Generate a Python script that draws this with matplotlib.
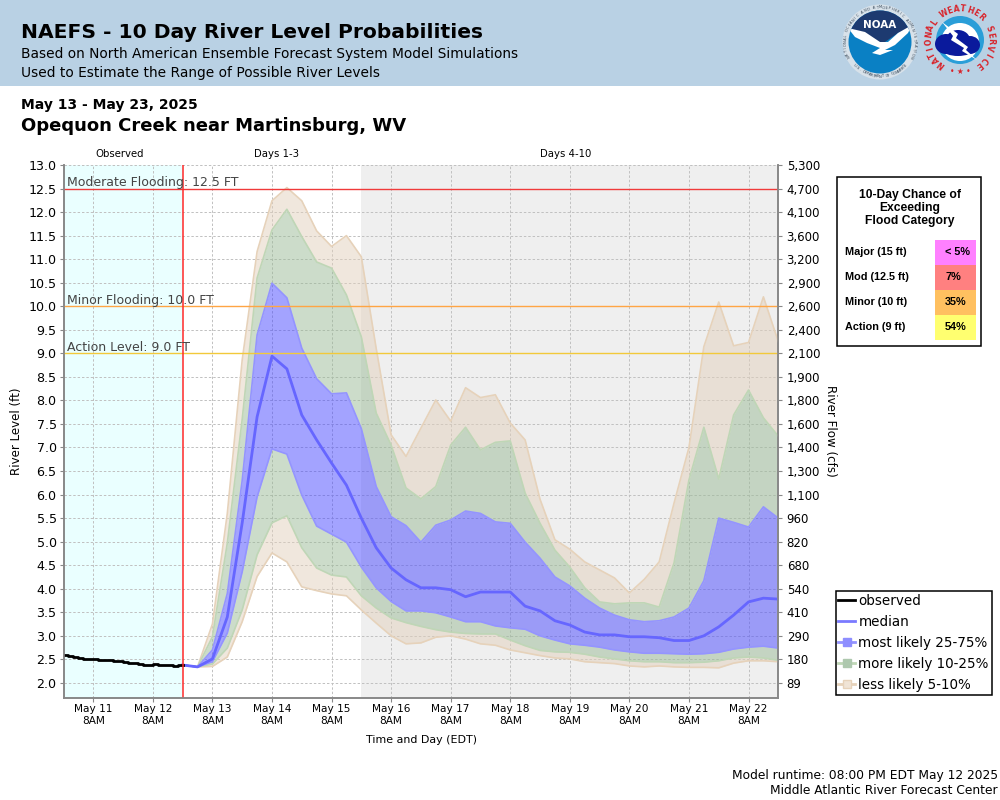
import numpy as np
import matplotlib
matplotlib.use('Agg')
import matplotlib.pyplot as plt
from matplotlib.lines import Line2D
from matplotlib.patches import Circle, Polygon, Rectangle, Ellipse

# hours counted from May 11 8AM
obs_hours = [-12, -10, -8, -6, -4, -2, 0, 2, 4, 6, 8, 10, 12, 14, 16, 18, 20, 22, 24, 26, 28, 30, 32, 34, 36]
obs_level = [2.60, 2.57, 2.55, 2.52, 2.51, 2.51, 2.51, 2.48, 2.48, 2.48, 2.46, 2.47, 2.45,
             2.42, 2.42, 2.40, 2.38, 2.38, 2.40, 2.38, 2.38, 2.37, 2.36, 2.38, 2.38]

fc_hours = list(range(36, 282, 6))
median = [2.38, 2.34, 2.51, 3.40, 5.40, 7.65, 8.94, 8.67, 7.69, 7.16, 6.67, 6.20, 5.50, 4.87, 4.44, 4.19,
          4.02, 4.02, 3.98, 3.83, 3.93, 3.93, 3.93, 3.63, 3.53, 3.32, 3.23, 3.08, 3.02, 3.02, 2.98, 2.98,
          2.96, 2.90, 2.90, 3.00, 3.19, 3.44, 3.72, 3.80, 3.78]
p75 = [2.38, 2.34, 2.70, 3.90, 6.30, 9.39, 10.49, 10.18, 9.11, 8.46, 8.14, 8.16, 7.40, 6.17, 5.53, 5.34,
       4.99, 5.35, 5.46, 5.65, 5.60, 5.42, 5.39, 4.99, 4.65, 4.25, 4.06, 3.80, 3.59, 3.44, 3.34, 3.30,
       3.32, 3.40, 3.59, 4.17, 5.50, 5.41, 5.31, 5.74, 5.50]
p25 = [2.38, 2.34, 2.45, 3.06, 4.36, 5.95, 6.97, 6.86, 5.99, 5.33, 5.16, 4.99, 4.46, 4.02, 3.73, 3.53,
       3.53, 3.49, 3.40, 3.30, 3.30, 3.21, 3.17, 3.14, 3.00, 2.91, 2.83, 2.80, 2.76, 2.70, 2.66, 2.63,
       2.63, 2.62, 2.61, 2.62, 2.65, 2.72, 2.76, 2.78, 2.74]
p90 = [2.38, 2.34, 2.98, 4.97, 7.60, 10.60, 11.62, 12.06, 11.48, 10.94, 10.81, 10.24, 9.35, 7.73, 7.05, 6.14,
       5.91, 6.17, 7.05, 7.43, 6.95, 7.11, 7.14, 6.03, 5.39, 4.82, 4.46, 4.02, 3.72, 3.68, 3.70, 3.70,
       3.61, 4.55, 6.31, 7.43, 6.33, 7.69, 8.22, 7.63, 7.24]
p10 = [2.38, 2.34, 2.40, 2.74, 3.55, 4.72, 5.40, 5.55, 4.87, 4.44, 4.29, 4.25, 3.85, 3.59, 3.38, 3.28,
       3.20, 3.13, 3.08, 3.05, 3.04, 3.04, 2.91, 2.79, 2.69, 2.66, 2.65, 2.61, 2.55, 2.51, 2.47, 2.45,
       2.45, 2.43, 2.43, 2.44, 2.47, 2.53, 2.55, 2.53, 2.48]
p95 = [2.38, 2.34, 3.25, 5.60, 8.86, 11.16, 12.24, 12.52, 12.24, 11.60, 11.27, 11.50, 11.05, 9.10, 7.27, 6.81,
       7.41, 8.01, 7.56, 8.27, 8.06, 8.12, 7.52, 7.16, 5.90, 5.04, 4.84, 4.57, 4.40, 4.23, 3.91, 4.20,
       4.57, 5.82, 7.00, 9.14, 10.09, 9.16, 9.23, 10.20, 9.25]
p05 = [2.38, 2.34, 2.35, 2.55, 3.30, 4.26, 4.76, 4.57, 4.04, 3.96, 3.89, 3.85, 3.55, 3.27, 3.00, 2.83,
       2.85, 2.97, 3.00, 2.93, 2.83, 2.80, 2.70, 2.64, 2.58, 2.53, 2.51, 2.45, 2.43, 2.41, 2.36, 2.34,
       2.36, 2.34, 2.33, 2.33, 2.32, 2.42, 2.47, 2.47, 2.45]

level_ticks = [x / 2 for x in range(4, 27)]
flow_labels = ['89', '180', '290', '410', '540', '680', '820', '960', '1,100', '1,300', '1,400', '1,600',
               '1,800', '1,900', '2,100', '2,400', '2,600', '2,900', '3,200', '3,600', '4,100', '4,700', '5,300']
day_hours = list(range(0, 288, 24))
day_labels = ['May 11', 'May 12', 'May 13', 'May 14', 'May 15', 'May 16',
              'May 17', 'May 18', 'May 19', 'May 20', 'May 21', 'May 22']

flood_names = ['Moderate Flooding: 12.5 FT', 'Minor Flooding: 10.0 FT', 'Action Level: 9.0 FT']
flood_levels = [12.5, 10.0, 9.0]
flood_colors = ['#f03a3a', '#ffa544', '#f2c93a']

chance_names = ['Major (15 ft)', 'Mod (12.5 ft)', 'Minor (10 ft)', 'Action (9 ft)']
chance_values = ['< 5%', '7%', '35%', '54%']
chance_colors = ['#ff80ff', '#ff8080', '#ffc060', '#ffff70']

BLUE = '#4848ff'
GREEN = '#9abb96'
TAN = '#e2d0bc'
BLUE_EDGE = '#9494ff'
GREEN_EDGE = '#bfd6b6'
TAN_EDGE = '#e6d2ba'

fig = plt.figure(figsize=(10, 8), dpi=100)

# whole figure axes in pixels for header, logos and table
bg = fig.add_axes([0, 0, 1, 1], zorder=0)
bg.set_xlim(0, 1000)
bg.set_ylim(800, 0)
bg.axis('off')
bg.add_patch(Rectangle((0, 0), 1000, 85.5, color='#b9d1e4', lw=0))

bg.text(21, 33, 'NAEFS - 10 Day River Level Probabilities', fontsize=14.55, fontweight='bold', va='center')
bg.text(21, 54, 'Based on North American Ensemble Forecast System Model Simulations', fontsize=9.9, va='center')
bg.text(21, 73, 'Used to Estimate the Range of Possible River Levels', fontsize=9.9, va='center')
bg.text(21, 105, 'May 13 - May 23, 2025', fontsize=10, fontweight='bold', va='center')
bg.text(21, 126, 'Opequon Creek near Martinsburg, WV', fontsize=12.95, fontweight='bold', va='center')
bg.text(120, 154, 'Observed', fontsize=7.3, ha='center', va='center')
bg.text(276, 154, 'Days 1-3', fontsize=7.3, ha='center', va='center')
bg.text(566, 154, 'Days 4-10', fontsize=7.3, ha='center', va='center')
bg.text(421, 740, 'Time and Day (EDT)', fontsize=7.9, ha='center', va='center')
bg.text(17, 431, 'River Level (ft)', fontsize=8.6, rotation=90, ha='center', va='center')
bg.text(831, 431, 'River Flow (cfs)', fontsize=8.6, rotation=270, ha='center', va='center')
bg.text(998, 775, 'Model runtime: 08:00 PM EDT May 12 2025', fontsize=8.8, ha='right', va='center')
bg.text(998, 791, 'Middle Atlantic River Forecast Center', fontsize=8.8, ha='right', va='center')


def ring_text(text, cx, cy, r, start, end, size, color, bottom=False, weight='normal'):
    for ch, a in zip(text, np.linspace(start, end, len(text))):
        t = np.radians(a)
        rot = a + 90 if bottom else a - 90
        bg.text(cx + r * np.cos(t), cy - r * np.sin(t), ch, fontsize=size, color=color, rotation=rot,
                ha='center', va='center', fontweight=weight)


# NOAA logo
bg.add_patch(Circle((880, 42), 37.5, color='#d8e2ea', lw=0))
disc = Circle((880, 42), 31.5, color='#0a80c4', lw=0)
bg.add_patch(disc)
navy = Polygon([(845, 5), (915, 5), (915, 26), (898, 33), (885, 42), (875, 42), (865, 34), (848, 28)],
               color='#1d3a70', lw=0)
bg.add_patch(navy)
navy.set_clip_path(disc)
gull = Polygon([(848, 28), (865, 32), (880, 42), (888, 42), (898, 33), (912, 25), (908, 33), (895, 45),
                (885, 50), (893, 50), (880, 55), (872, 53), (880, 48), (867, 43), (855, 37)],
               color='white', lw=0)
bg.add_patch(gull)
gull.set_clip_path(disc)
bg.text(880, 25, 'NOAA', color='white', fontsize=7.5, fontweight='bold', ha='center', va='center')
ring_text('NATIONAL OCEANIC AND ATMOSPHERIC ADMINISTRATION', 880, 42, 34.5, 205, -25, 2.6, '#334455')
ring_text('U.S. DEPARTMENT OF COMMERCE', 880, 42, 34.5, 222, 318, 2.6, '#334455', bottom=True)

# NWS logo
bg.add_patch(Circle((960, 40), 24, color='#2a9ed8', lw=0))
bg.add_patch(Circle((960, 42), 19, color='white', lw=0))
for ex, ey, ew, eh in [(946, 44, 22, 20), (958, 40, 24, 20), (970, 45, 20, 18), (958, 50, 30, 12)]:
    bg.add_patch(Ellipse((ex, ey), ew, eh, color='#0a1a9c', lw=0))
bg.add_patch(Polygon([(942, 22), (958, 34), (956, 38), (968, 47), (966, 50), (977, 60), (962, 51), (964, 48),
                      (951, 40), (953, 36)], color='white', lw=0))
ring_text('NATIONAL WEATHER SERVICE', 960, 40, 31, 232, -52, 5.6, '#d8232a', weight='bold')
bg.text(960, 71, '\u2022 \u2605 \u2022', color='#d8232a', fontsize=5.5, ha='center', va='center')

# chance of exceeding table
bg.add_patch(Rectangle((836.5, 176.5), 144, 169, fc='white', ec='black', lw=1.1))
for i, line in enumerate(['10-Day Chance of', 'Exceeding', 'Flood Category']):
    bg.text(910, 195 + i * 13, line, family='Liberation Sans', fontweight='bold', fontsize=8.7, ha='center', va='center')
for i in range(4):
    top = 240 + i * 25
    bg.add_patch(Rectangle((935, top), 41, 25.3, color=chance_colors[i], lw=0))
    bg.text(845, top + 12, chance_names[i], family='Liberation Sans', fontweight='bold', fontsize=7.8, va='center')
    bg.text(945, top + 12, chance_values[i], family='Liberation Sans', fontweight='bold', fontsize=7.8, va='center')

ax = fig.add_axes([63.5 / 1000, 1 - 697.5 / 800, 714.8 / 1000, 532.5 / 800], zorder=1)
ax.set_xlim(-12, 276)
ax.set_ylim(1.69, 13.0)

ax.axvspan(-12, 36, color='#eaffff', lw=0, zorder=0)
ax.axvspan(108, 276, color='#efefef', lw=0, zorder=0)
ax.set_axisbelow(True)
ax.grid(True, color='#c0c0c0', ls=(0, (2.5, 2)), lw=0.7)

ax.fill_between(fc_hours, p90, p95, color=TAN, alpha=0.5, lw=0, zorder=2)
ax.fill_between(fc_hours, p05, p10, color=TAN, alpha=0.5, lw=0, zorder=2)
ax.fill_between(fc_hours, p75, p90, color=GREEN, alpha=0.5, lw=0, zorder=2)
ax.fill_between(fc_hours, p10, p25, color=GREEN, alpha=0.5, lw=0, zorder=2)
ax.fill_between(fc_hours, p25, p75, color=BLUE, alpha=0.5, lw=0, zorder=2)
for series, edge in [(p95, TAN_EDGE), (p05, TAN_EDGE), (p90, GREEN_EDGE), (p10, GREEN_EDGE), (p75, BLUE_EDGE), (p25, BLUE_EDGE)]:
    ax.plot(fc_hours, series, color=edge, lw=1.2, zorder=3)
ax.plot(fc_hours, median, color='#6666ff', lw=2, zorder=4)
ax.plot(obs_hours, obs_level, color='black', lw=2, drawstyle='steps-post', zorder=4)

for name, level, color in zip(flood_names, flood_levels, flood_colors):
    ax.axhline(level, color=color, lw=1, zorder=5)
    ax.text(-10.5, level + 0.13, name, fontsize=9, color='#444444', va='center', zorder=6)
ax.axvline(36, color='#ff2a2a', lw=1.1, zorder=5)

ax.set_xticks(day_hours)
ax.set_xticklabels([d + '\n8AM' for d in day_labels], fontsize=7.6, linespacing=1.15)
ax.set_yticks(level_ticks)
ax.set_yticklabels(['%.1f' % v for v in level_ticks], fontsize=9.1)
ax.tick_params(axis='both', color='#888888', length=3, width=0.8, pad=2)

right = ax.twinx()
right.set_ylim(ax.get_ylim())
right.set_yticks(level_ticks)
right.set_yticklabels(flow_labels, fontsize=8.5)
right.tick_params(axis='y', color='#888888', length=3, width=0.8, pad=3)

for a in (ax, right):
    for side in ('left', 'bottom', 'right'):
        a.spines[side].set_color('#888888')
        a.spines[side].set_linewidth(1.2)
    a.spines['top'].set_visible(False)

handles = [
    Line2D([], [], color='black', lw=2),
    Line2D([], [], color='#7a7aff', lw=2),
    Line2D([], [], color=BLUE_EDGE, lw=2, marker='s', ms=5.5, mfc='#8e8eff', mec='#8e8eff'),
    Line2D([], [], color=GREEN_EDGE, lw=2, marker='s', ms=5.5, mfc='#aec8ae', mec='#aec8ae'),
    Line2D([], [], color=TAN_EDGE, lw=2, marker='s', ms=5.5, mfc='#f0e4d6', mec='#e6d2ba'),
]
legend = fig.legend(handles, ['observed', 'median', 'most likely 25-75%', 'more likely 10-25%', 'less likely 5-10%'],
                    loc='upper left', bbox_to_anchor=(0.8355, 1 - 591 / 800), fontsize=9.75, fancybox=False,
                    framealpha=1, edgecolor='black', borderpad=0.22, labelspacing=0.51, handlelength=1.25,
                    handletextpad=0.22, borderaxespad=0)
legend.get_frame().set_linewidth(1.1)

plt.savefig('out.png', dpi=100)
plt.close()
